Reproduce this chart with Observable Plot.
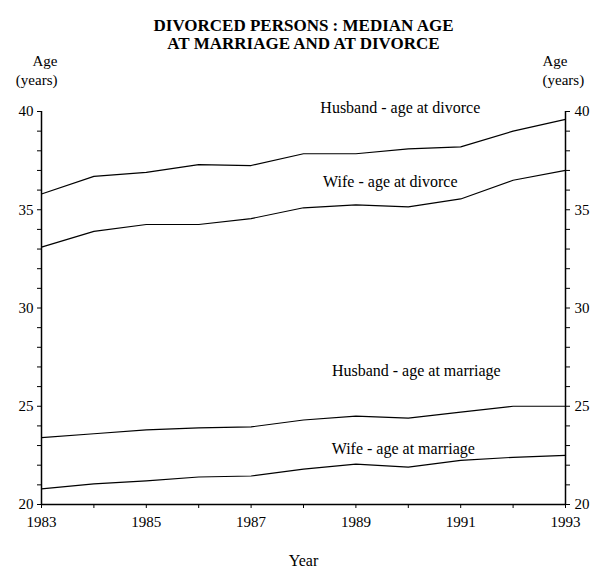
<!DOCTYPE html>
<html><head>
<meta charset="utf-8">
<script src="https://cdn.jsdelivr.net/npm/d3@7"></script>
<script src="https://cdn.jsdelivr.net/npm/@observablehq/plot@0.6"></script>
<style>
body{margin:0;background:#fff}
svg{font-family:"Liberation Serif","DejaVu Serif",serif}
</style>
</head><body><div id="chart"></div>
<script>
const years = [1983,1984,1985,1986,1987,1988,1989,1990,1991,1992,1993];
const husbandDivorce = [35.8,36.7,36.9,37.3,37.25,37.85,37.85,38.1,38.2,39.0,39.6];
const wifeDivorce    = [33.1,33.9,34.25,34.25,34.55,35.1,35.25,35.15,35.55,36.5,37.0];
const husbandMarriage= [23.4,23.6,23.8,23.9,23.95,24.3,24.5,24.4,24.7,25.0,25.0];
const wifeMarriage   = [20.8,21.05,21.2,21.4,21.45,21.8,22.05,21.9,22.25,22.4,22.5];
const seriesNames = ["Husband - age at divorce","Wife - age at divorce","Husband - age at marriage","Wife - age at marriage"];
const seriesValues = [husbandDivorce, wifeDivorce, husbandMarriage, wifeMarriage];
const yTicks = [20,25,30,35,40];
const xTickLabels = [1983,1985,1987,1989,1991,1993];
const titleLines = ["DIVORCED PERSONS : MEDIAN AGE","AT MARRIAGE AND AT DIVORCE"];
const axisTitle = ["Age","(years)"];
const xTitle = "Year";
const labelYear = 1990;

const rows = [];
seriesNames.forEach((s,i)=>years.forEach((y,j)=>rows.push({series:s, year:y, value:seriesValues[i][j]})));
const labelRow = i => [{year: labelYear, value: seriesValues[i][years.indexOf(labelYear)], text: seriesNames[i]}];
const labelOffsets = [[-8,-41],[-18,-25],[8,-47],[-5,-18]];

const fs = 15, lfs = 16;
const plot = Plot.plot({
  width: 598, height: 576,
  marginLeft: 41, marginRight: 33, marginTop: 111, marginBottom: 72,
  style: {fontFamily: '"Liberation Serif", serif', fontSize: fs+"px", color: "#000", background: "#fff"},
  x: {domain: [1983,1993]},
  y: {domain: [20,40]},
  marks: [
    Plot.ruleX([1983,1993], {stroke:"#000", strokeWidth:1.5}),
    Plot.ruleY([20], {stroke:"#000", strokeWidth:1.5}),
    Plot.axisY({anchor:"left", ticks: d3.range(20,41), tickFormat: d => yTicks.includes(d) ? String(d) : "", tickSize: 4, tickPadding: 4, label: null, fontSize: fs}),
    Plot.axisY({anchor:"right", ticks: d3.range(20,41), tickFormat: d => yTicks.includes(d) ? String(d) : "", tickSize: 4, tickPadding: 5, label: null, fontSize: fs}),
    Plot.axisX({anchor:"bottom", ticks: years, tickFormat: d => xTickLabels.includes(d) ? String(d) : "", tickSize: 4, tickPadding: 8, label: null, fontSize: fs}),
    Plot.line(rows, {x:"year", y:"value", z:"series", stroke:"#000", strokeWidth:1.2}),
    ...seriesNames.map((s,i)=>Plot.text(labelRow(i), {x:"year", y:"value", text:"text", dx: labelOffsets[i][0], dy: labelOffsets[i][1], fontSize: lfs, fill:"#000"})),
    Plot.text([titleLines[0]], {text: d=>d, frameAnchor:"top", dy: -93, fontWeight:"bold", fontSize: 17, fill:"#000"}),
    Plot.text([titleLines[1]], {text: d=>d, frameAnchor:"top", dy: -75, fontWeight:"bold", fontSize: 17, fill:"#000"}),
    Plot.text([axisTitle[0]], {text: d=>d, frameAnchor:"top-left", dx: 16, dy: -56, textAnchor:"end", fontSize: fs, fill:"#000"}),
    Plot.text([axisTitle[1]], {text: d=>d, frameAnchor:"top-left", dx: 16, dy: -37, textAnchor:"end", fontSize: fs, fill:"#000"}),
    Plot.text([axisTitle[0]], {text: d=>d, frameAnchor:"top-right", dx: -23, dy: -56, textAnchor:"start", fontSize: fs, fill:"#000"}),
    Plot.text([axisTitle[1]], {text: d=>d, frameAnchor:"top-right", dx: -23, dy: -37, textAnchor:"start", fontSize: fs, fill:"#000"}),
    Plot.text([xTitle], {text: d=>d, frameAnchor:"bottom", dy: 61, fontSize: lfs, fill:"#000"})
  ]
});
document.getElementById("chart").append(plot);
</script>
</body></html>
